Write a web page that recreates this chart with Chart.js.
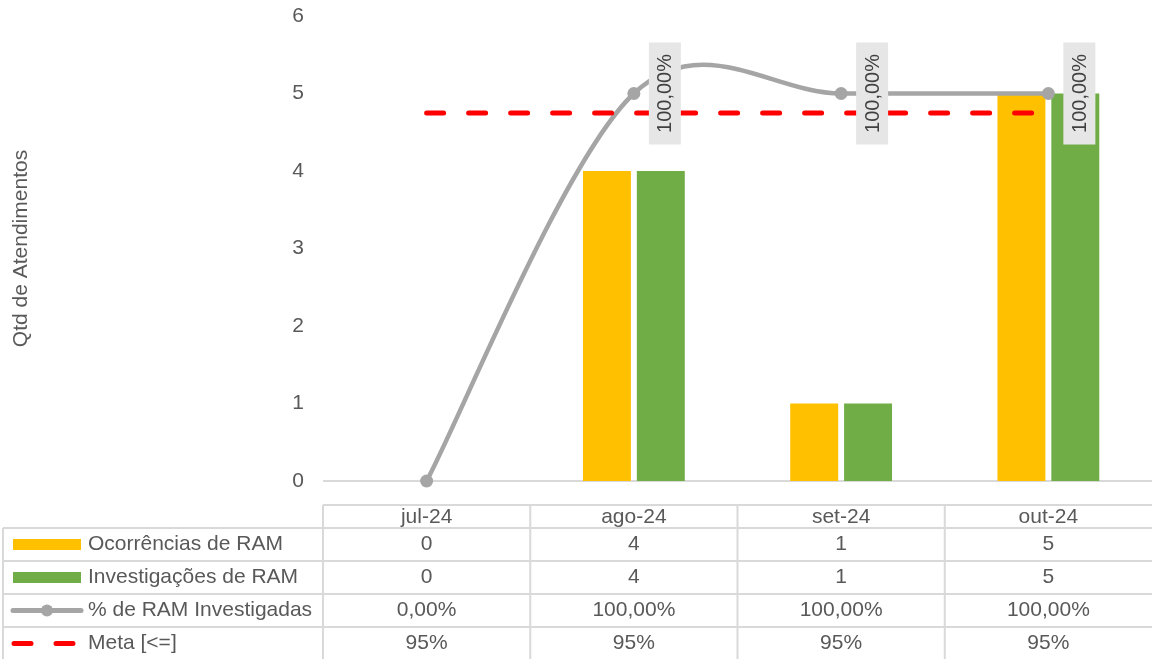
<!DOCTYPE html>
<html lang="pt-BR">
<head>
<meta charset="utf-8">
<title>RAM investigadas</title>
<script src="https://cdn.jsdelivr.net/npm/chart.js@4/dist/chart.umd.min.js"></script>
<style>
  html, body { margin: 0; padding: 0; background: #fff; }
  canvas { display: block; }
</style>
</head>
<body>
<canvas id="grafico" width="1152" height="659"></canvas>
<script>
// --- dados ---
const meses = ["jul-24", "ago-24", "set-24", "out-24"];
const ocorrencias = [0, 4, 1, 5];
const investigacoes = [0, 4, 1, 5];
const pctInvestigadas = [0, 100, 100, 100];
const meta = [95, 95, 95, 95];
const yMin = 0, yMax = 6, yPasso = 1;
const pctMax = 120; // eixo secundário (oculto)

const fonte = "'Liberation Sans', Arial, sans-serif";
const corTexto = "#595959";
const corGrade = "#D9D9D9";
const amarelo = "#FFC000", verde = "#70AD47", cinza = "#A5A5A5", vermelho = "#FF0000";

const pct2 = v => v.toFixed(2).replace(".", ",") + "%";
const pct0 = v => v + "%";

const linhasTabela = [
  { nome: "Ocorrências de RAM", valores: ocorrencias.map(String), tipo: "barra", cor: amarelo },
  { nome: "Investigações de RAM", valores: investigacoes.map(String), tipo: "barra", cor: verde },
  { nome: "% de RAM Investigadas", valores: pctInvestigadas.map(pct2), tipo: "linha", cor: cinza },
  { nome: "Meta [<=]", valores: meta.map(pct0), tipo: "tracejado", cor: vermelho }
];

// suavização estilo Excel (Catmull-Rom, fator 1/6) na linha de %
const suavizacao = {
  id: "suavizacao",
  beforeDatasetsDraw(chart) {
    const m = chart.getDatasetMeta(2);
    const pts = m.data, n = pts.length;
    pts.forEach((p, i) => {
      const a = pts[Math.max(i - 1, 0)], b = pts[Math.min(i + 1, n - 1)];
      const dx = (b.x - a.x) / 6, dy = (b.y - a.y) / 6;
      p.cp1x = p.x - dx; p.cp1y = p.y - dy;
      p.cp2x = p.x + dx; p.cp2y = p.y + dy;
    });
    m.dataset._pointsUpdated = true;
  }
};

// linha base + tabela de dados com legenda
const tabelaDados = {
  id: "tabelaDados",
  beforeDatasetsDraw(chart) {
    const { ctx, chartArea: a } = chart;
    ctx.save();
    ctx.strokeStyle = corGrade;
    ctx.lineWidth = 2;
    ctx.beginPath();
    ctx.moveTo(a.left, a.bottom);
    ctx.lineTo(a.right, a.bottom);
    ctx.stroke();
    ctx.restore();
  },
  afterDraw(chart) {
    const { ctx, chartArea: a } = chart;
    const larg = (a.right - a.left) / meses.length;
    const cols = meses.map((_, i) => a.left + i * larg);
    const topoCab = 505;
    const ys = [528, 561, 594, 627, 660];
    ctx.save();
    ctx.strokeStyle = corGrade;
    ctx.lineWidth = 2;
    ctx.beginPath();
    ctx.moveTo(a.left, topoCab); ctx.lineTo(chart.width, topoCab);
    for (let i = 0; i < 4; i++) { ctx.moveTo(3, ys[i]); ctx.lineTo(chart.width, ys[i]); }
    ctx.moveTo(3, ys[0]); ctx.lineTo(3, chart.height);
    cols.forEach(x => { ctx.moveTo(x, topoCab); ctx.lineTo(x, chart.height); });
    ctx.stroke();

    ctx.fillStyle = corTexto;
    ctx.font = "21px " + fonte;
    ctx.textBaseline = "middle";
    ctx.textAlign = "center";
    meses.forEach((m, i) => ctx.fillText(m, cols[i] + larg / 2, 517));

    linhasTabela.forEach((lin, r) => {
      const yc = (ys[r] + ys[r + 1]) / 2;
      // amostra da legenda
      if (lin.tipo === "barra") {
        ctx.fillStyle = lin.cor;
        ctx.fillRect(13, yc - 5.5, 68, 11);
      } else if (lin.tipo === "linha") {
        ctx.strokeStyle = lin.cor; ctx.lineWidth = 5; ctx.lineCap = "round";
        ctx.beginPath(); ctx.moveTo(13, yc); ctx.lineTo(81, yc); ctx.stroke();
        ctx.fillStyle = lin.cor;
        ctx.beginPath(); ctx.arc(47, yc, 6, 0, Math.PI * 2); ctx.fill();
      } else {
        ctx.strokeStyle = lin.cor; ctx.lineWidth = 5; ctx.lineCap = "round";
        ctx.beginPath();
        ctx.moveTo(14, yc); ctx.lineTo(31, yc);
        ctx.moveTo(56, yc); ctx.lineTo(73, yc);
        ctx.stroke();
      }
      ctx.fillStyle = corTexto;
      ctx.textAlign = "left";
      ctx.fillText(lin.nome, 88, yc);
      ctx.textAlign = "center";
      lin.valores.forEach((v, i) => ctx.fillText(v, cols[i] + larg / 2, yc));
    });
    ctx.restore();
  }
};

// rótulos verticais "100,00%" com caixa cinza
const rotulosPct = {
  id: "rotulosPct",
  afterDatasetsDraw(chart) {
    const { ctx } = chart;
    const meta2 = chart.getDatasetMeta(2);
    ctx.save();
    meta2.data.forEach((pt, i) => {
      const v = pctInvestigadas[i];
      if (!v) return;
      const cx = pt.x + 31, cy = pt.y;
      ctx.fillStyle = "#E7E6E6";
      ctx.fillRect(cx - 16, cy - 51, 32, 102);
      ctx.translate(cx, cy);
      ctx.rotate(-Math.PI / 2);
      ctx.fillStyle = "#404040";
      ctx.font = "20px " + fonte;
      ctx.textAlign = "center";
      ctx.textBaseline = "middle";
      ctx.fillText(pct2(v), 0, 1);
      ctx.setTransform(1, 0, 0, 1, 0, 0);
    });
    ctx.restore();
  }
};

new Chart(document.getElementById("grafico"), {
  type: "bar",
  data: {
    labels: meses,
    datasets: [
      { label: "Ocorrências de RAM", data: ocorrencias, backgroundColor: amarelo,
        categoryPercentage: 0.52, barPercentage: 0.89, order: 3 },
      { label: "Investigações de RAM", data: investigacoes, backgroundColor: verde,
        categoryPercentage: 0.52, barPercentage: 0.89, order: 3 },
      { type: "line", label: "% de RAM Investigadas", data: pctInvestigadas, yAxisID: "y1",
        borderColor: cinza, backgroundColor: cinza, borderWidth: 4.5, tension: 0.5,
        pointRadius: 6.5, pointBackgroundColor: cinza, pointBorderWidth: 0, clip: false, order: 2 },
      { type: "line", label: "Meta [<=]", data: meta, yAxisID: "y1",
        borderColor: vermelho, borderWidth: 5, borderDash: [17, 25], borderCapStyle: "round",
        pointRadius: 0, tension: 0, clip: false, order: 1 }
    ]
  },
  options: {
    responsive: false,
    animation: false,
    layout: { autoPadding: false, padding: { top: 16, right: 0, bottom: 178, left: 0 } },
    plugins: { legend: { display: false }, tooltip: { enabled: false } },
    scales: {
      x: { display: false, offset: true },
      y: {
        min: yMin, max: yMax,
        ticks: { stepSize: yPasso, padding: 0, color: corTexto, font: { family: fonte, size: 21 } },
        grid: { display: false, drawTicks: true, tickLength: 19 },
        border: { display: false },
        title: { display: true, text: "Qtd de Atendimentos", color: corTexto,
                 font: { family: fonte, size: 21 }, padding: { top: 9, bottom: 0 } },
        afterFit: s => { s.width = 323; }
      },
      y1: { display: false, position: "right", min: 0, max: pctMax }
    }
  },
  plugins: [suavizacao, tabelaDados, rotulosPct]
});
</script>
</body>
</html>
